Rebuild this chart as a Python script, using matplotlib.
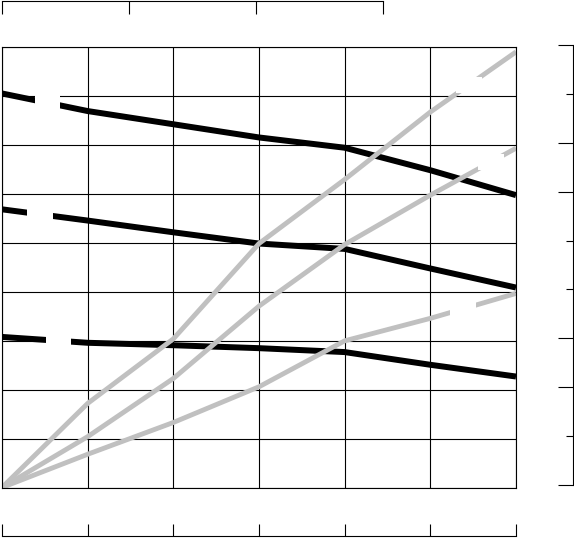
import numpy as np
import matplotlib
matplotlib.use('Agg')
import matplotlib.pyplot as plt
from matplotlib.patches import Rectangle

# values (x at the vertical grid lines, y in grid units)
x_vals = [0, 1, 2, 3, 4, 5, 6]

black_top = [8.06, 7.70, 7.43, 7.16, 6.95, 6.49, 5.98]
black_mid = [5.69, 5.46, 5.22, 4.99, 4.88, 4.48, 4.09]
black_low = [3.08, 2.96, 2.91, 2.85, 2.77, 2.51, 2.27]

gray_steep = [0, 1.72, 3.04, 4.99, 6.30, 7.68, 8.91]
gray_mid = [0, 1.04, 2.23, 3.71, 4.97, 5.98, 6.94]
gray_low = [0, 0.68, 1.33, 2.06, 3.00, 3.46, 3.97]

# where each curve carries its (empty) inline label
black_label_x = [0.53, 0.44, 0.66]
gray_label_x = [5.45, 5.71, 5.38]

W, H = 574, 539
fig = plt.figure(figsize=(W / 100, H / 100), dpi=100)


def px_box(x0, y0, x1, y1):
    # pixel box (top-left origin) -> figure fraction
    return [x0 / W, (H - y1) / H, (x1 - x0) / W, (y1 - y0) / H]


ax = fig.add_axes(px_box(2, 47.5, 516, 487.5))
ax.set_xlim(0, 6)
ax.set_ylim(0, 9)
ax.set_xticks(range(7))
ax.set_yticks(range(10))
ax.tick_params(length=0, labelbottom=False, labelleft=False)
ax.grid(True, color='black', linewidth=0.8, zorder=0.5)
ax.set_axisbelow(True)
for s in ax.spines.values():
    s.set_linewidth(0.8)
    s.set_zorder(5)

for ys in [black_top, black_mid, black_low]:
    ax.plot(x_vals, ys, color='black', linewidth=4.3, solid_capstyle='butt', zorder=2)
for ys in [gray_steep, gray_mid, gray_low]:
    ax.plot(x_vals, ys, color='#c0c0c0', linewidth=3.5, solid_capstyle='butt', zorder=2.1)

gap_w = 0.3
gap_h = 0.34
for lx, ys in zip(black_label_x + gray_label_x,
                  [black_top, black_mid, black_low, gray_steep, gray_mid, gray_low]):
    cy = np.interp(lx, x_vals, ys)
    ax.add_patch(Rectangle((lx - gap_w / 2, cy - gap_h / 2), gap_w, gap_h,
                           facecolor='white', edgecolor='none', zorder=3))

# top scale
ax_t = fig.add_axes(px_box(2, 1, 383, 20))
ax_t.set_xlim(0, 3)
ax_t.set_xticks(range(4))
ax_t.set_yticks([])
for k in ['left', 'right', 'bottom']:
    ax_t.spines[k].set_visible(False)
ax_t.spines['top'].set_linewidth(0.8)
ax_t.tick_params(axis='x', top=True, bottom=False, direction='in', length=9.5, width=0.8,
                 labeltop=False, labelbottom=False)
ax_t.patch.set_visible(False)

# right scale
ax_r = fig.add_axes(px_box(540, 45, 573, 485))
ax_r.set_ylim(0, 9)
ax_r.set_yticks([0, 2, 3, 6, 7, 9])
ax_r.set_yticks([1, 4, 5, 8], minor=True)
ax_r.set_xticks([])
for k in ['left', 'top', 'bottom']:
    ax_r.spines[k].set_visible(False)
ax_r.spines['right'].set_linewidth(0.8)
ax_r.tick_params(axis='y', which='major', right=True, left=False, direction='in', length=11,
                 width=0.8, labelleft=False, labelright=False)
ax_r.tick_params(axis='y', which='minor', right=True, left=False, direction='in', length=5,
                 width=0.8, labelleft=False, labelright=False)
ax_r.patch.set_visible(False)

# bottom scale
ax_b = fig.add_axes(px_box(2, 515, 516, 536))
ax_b.set_xlim(0, 6)
ax_b.set_xticks(range(7))
ax_b.set_yticks([])
for k in ['left', 'right', 'top']:
    ax_b.spines[k].set_visible(False)
ax_b.spines['bottom'].set_linewidth(0.8)
ax_b.tick_params(axis='x', direction='in', length=9, width=0.8, labelbottom=False)
ax_b.patch.set_visible(False)

fig.savefig('out.png', dpi=100)
